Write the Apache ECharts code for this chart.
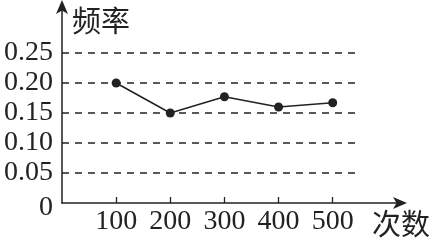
<!DOCTYPE html>
<html><head><meta charset="utf-8">
<script src="https://cdn.jsdelivr.net/npm/echarts@6/dist/echarts.min.js"></script>
<style>html,body{margin:0;padding:0;background:#fff}#c{width:433px;height:242px}</style>
</head><body><div id="c"></div>
<script>
const xValues = [100, 200, 300, 400, 500];
const freqValues = [0.20, 0.15, 0.177, 0.16, 0.167];
const yTicks = [0, 0.05, 0.10, 0.15, 0.20, 0.25];
const gridTicks = [0.05, 0.10, 0.15, 0.20, 0.25];
const xName = '次数';
const yName = '频率';

const chart = echarts.init(document.getElementById('c'));
const serif = '"Liberation Serif", "DejaVu Serif", serif';
const cjk = '"Noto Sans CJK SC", sans-serif';
chart.setOption({
  animation: false,
  grid: {left: 62, right: 29, top: 5, bottom: 39},
  xAxis: {
    type: 'value', min: 0, max: 628, interval: 100,
    name: xName,
    nameLocation: 'end',
    nameGap: 28,
    nameTextStyle: {fontFamily: cjk, fontSize: 29, color: '#222', align: 'right', verticalAlign: 'top', padding: [6, 0, 0, 0]},
    axisLine: {show: true, lineStyle: {color: '#222', width: 1.5}, symbol: ['none', 'arrow'], symbolSize: [9, 14], symbolOffset: [0, 5]},
    axisTick: {show: true, inside: true, length: 6, lineStyle: {color: '#222', width: 1.3}, customValues: xValues},
    axisLabel: {customValues: xValues, fontFamily: serif, fontSize: 28, color: '#222', margin: 5},
    splitLine: {show: false}
  },
  yAxis: {
    type: 'value', min: 0, max: 0.33, interval: 0.05,
    name: yName,
    nameLocation: 'end',
    nameGap: -1,
    nameTextStyle: {fontFamily: cjk, fontSize: 29, color: '#222', align: 'left', verticalAlign: 'top', padding: [0, 0, 0, 10]},
    axisLine: {show: true, lineStyle: {color: '#222', width: 1.5}, symbol: ['none', 'arrow'], symbolSize: [9, 14], symbolOffset: [0, 5]},
    axisTick: {show: false},
    axisLabel: {
      customValues: yTicks, fontFamily: serif, fontSize: 28, color: '#222', margin: 9,
      formatter: v => v === 0 ? '{z|0}' : v.toFixed(2),
      rich: {z: {fontFamily: serif, fontSize: 28, color: '#222', padding: [10, 0, 0, 0]}}
    },
    splitLine: {show: false}
  },
  series: [{
    type: 'line',
    data: xValues.map((x, i) => [x, freqValues[i]]),
    symbol: 'circle', symbolSize: 9,
    lineStyle: {color: '#222', width: 1.5},
    itemStyle: {color: '#222'},
    markLine: {
      silent: true, symbol: 'none', label: {show: false},
      lineStyle: {color: '#222', type: [7, 6], width: 1.5},
      data: gridTicks.map(v => [{coord: [0, v]}, {coord: [550, v]}])
    }
  }]
});
</script></body></html>
